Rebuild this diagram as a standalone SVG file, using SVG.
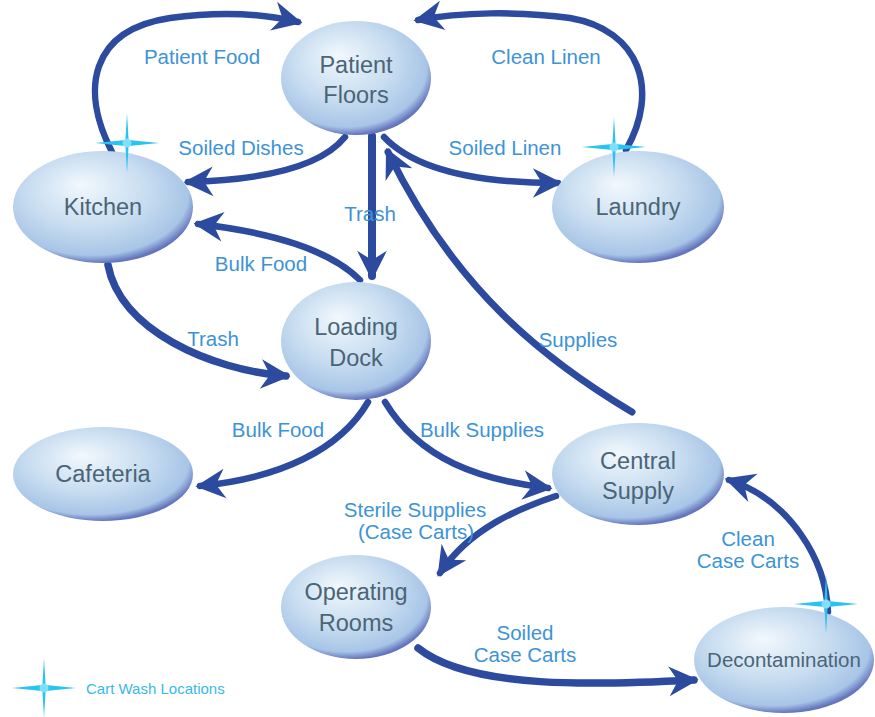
<svg xmlns="http://www.w3.org/2000/svg" width="875" height="717" viewBox="0 0 875 717">
<style>
.node text{font-family:"Liberation Sans",Arial,sans-serif;font-size:23.5px;fill:#4a6577;text-anchor:middle}
.lbl{font-family:"Liberation Sans",Arial,sans-serif;font-size:20.5px;fill:#3d93d6;text-anchor:middle}
.edge{fill:none;stroke:#2c4b9f;stroke-width:6.5;stroke-linecap:round;marker-end:url(#ah)}
.star{fill:#29c3f2}
</style>
<defs>
<radialGradient id="g" cx="0.44" cy="0.4" r="0.6" fx="0.38" fy="0.3">
<stop offset="0" stop-color="#f2f8fd"/>
<stop offset="0.55" stop-color="#c8ddf0"/>
<stop offset="0.9" stop-color="#a8c5e7"/>
<stop offset="1" stop-color="#6576bd"/>
</radialGradient>
<marker id="ah" markerUnits="userSpaceOnUse" markerWidth="32" markerHeight="32" viewBox="-24 -14 28 28" refX="0" refY="0" orient="auto">
<path d="M4 0 L-22 -13 L-14 0 L-22 13 Z" fill="#2c4b9f"/>
</marker>
<g id="st">
<path d="M0 -30 L1.6 -3 L32 0 L1.6 3 L0 30 L-1.6 3 L-32 0 L-1.6 -3 Z" class="star"/>
<circle r="4.5" fill="#8fe4fb" opacity="0.85"/>
</g>
</defs>
<rect width="875" height="717" fill="#ffffff"/>
<g id="connectors">
<path class="edge" d="M112 152 C80 90 90 30 170 18 C220 11 265 14 298 22"/>
<path class="edge" d="M626 150 C660 90 640 30 570 18 C520 11 460 12 418 20"/>
<path class="edge" d="M345 137 C320 168 260 180 188 182"/>
<path class="edge" d="M384 137 C415 170 480 183 558 183"/>
<path class="edge" d="M372 136 L372 276" style="stroke-width:8"/>
<path class="edge" d="M360 280 C330 250 270 232 198 224"/>
<path class="edge" d="M108 265 C120 330 210 370 286 376" style="stroke-width:7.5"/>
<path class="edge" d="M632 412 C545 360 455 290 388 152" style="stroke-width:7"/>
<path class="edge" d="M368 402 C340 450 280 478 200 486"/>
<path class="edge" d="M385 402 C420 460 480 480 548 488"/>
<path class="edge" d="M556 496 C520 508 470 528 440 573"/>
<path class="edge" d="M418 648 C470 690 600 685 694 680" style="stroke-width:7.5"/>
<path class="edge" d="M828 612 C826 560 790 500 729 480"/>
</g>
<g id="n-patient" class="node"><ellipse cx="356" cy="78" rx="75" ry="57" fill="url(#g)"/><text x="356" y="73">Patient</text><text x="356" y="103">Floors</text></g>
<g id="n-kitchen" class="node"><ellipse cx="103" cy="207" rx="90" ry="56" fill="url(#g)"/><text x="103" y="215">Kitchen</text></g>
<g id="n-laundry" class="node"><ellipse cx="638" cy="207" rx="86" ry="56" fill="url(#g)"/><text x="638" y="215">Laundry</text></g>
<g id="n-dock" class="node"><ellipse cx="356" cy="341" rx="75" ry="59" fill="url(#g)"/><text x="356" y="335">Loading</text><text x="356" y="366">Dock</text></g>
<g id="n-cafeteria" class="node"><ellipse cx="103" cy="474" rx="90" ry="47" fill="url(#g)"/><text x="103" y="482">Cafeteria</text></g>
<g id="n-central" class="node"><ellipse cx="638" cy="474" rx="86" ry="51" fill="url(#g)"/><text x="638" y="469">Central</text><text x="638" y="499">Supply</text></g>
<g id="n-or" class="node"><ellipse cx="356" cy="607" rx="75" ry="52" fill="url(#g)"/><text x="356" y="600">Operating</text><text x="356" y="631">Rooms</text></g>
<g id="n-decon" class="node"><ellipse cx="784" cy="660" rx="90" ry="53" fill="url(#g)"/><text x="784" y="667" style="font-size:20.5px">Decontamination</text></g>
<g id="labels">
<text class="lbl" x="202" y="64">Patient Food</text>
<text class="lbl" x="546" y="64">Clean Linen</text>
<text class="lbl" x="241" y="155">Soiled Dishes</text>
<text class="lbl" x="505" y="155">Soiled Linen</text>
<text class="lbl" x="370" y="221">Trash</text>
<text class="lbl" x="261" y="271">Bulk Food</text>
<text class="lbl" x="213" y="346">Trash</text>
<text class="lbl" x="578" y="347">Supplies</text>
<text class="lbl" x="278" y="437">Bulk Food</text>
<text class="lbl" x="482" y="437">Bulk Supplies</text>
<text class="lbl" x="415" y="517">Sterile Supplies</text>
<text class="lbl" x="416" y="539">(Case Carts)</text>
<text class="lbl" x="525" y="640">Soiled</text>
<text class="lbl" x="525" y="662">Case Carts</text>
<text class="lbl" x="748" y="546">Clean</text>
<text class="lbl" x="748" y="568">Case Carts</text>
</g>
<g id="stars">
<use href="#st" x="127" y="143"/>
<use href="#st" x="614" y="147"/>
<use href="#st" x="826" y="604"/>
<use href="#st" x="44" y="688"/>
</g>
<text x="86" y="694" style="font-family:'Liberation Sans',Arial,sans-serif;font-size:15px;fill:#39b8ea">Cart Wash Locations</text>
</svg>
